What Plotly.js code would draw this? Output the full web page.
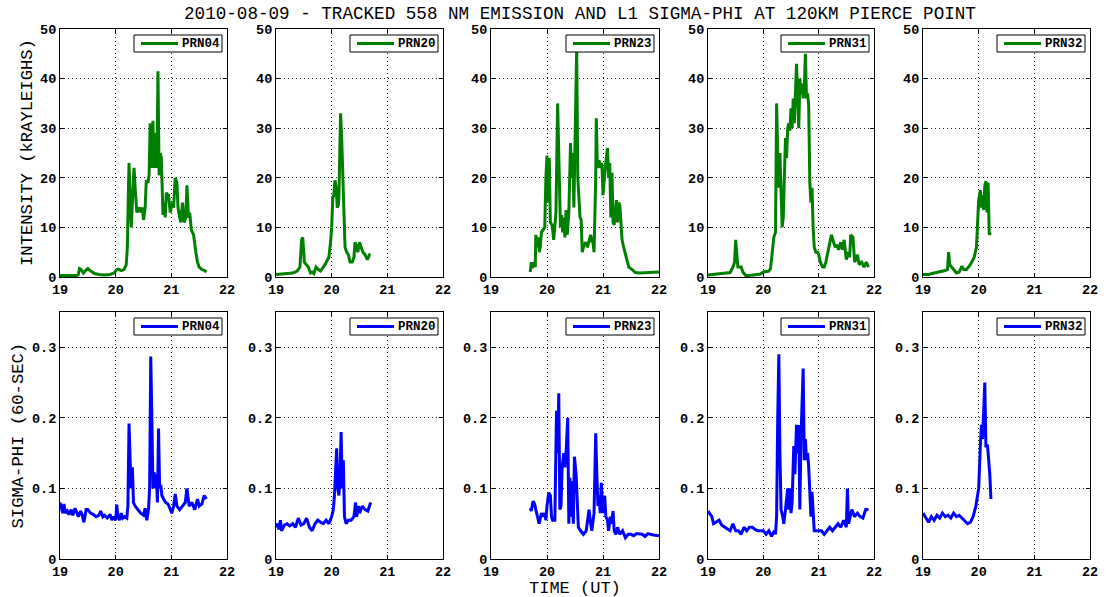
<!DOCTYPE html>
<html>
<head>
<meta charset="utf-8">
<script src="https://cdn.plot.ly/plotly-3.0.1.min.js"></script>
<style>
  html, body { margin: 0; padding: 0; background: #fff; }
  #chart { width: 1106px; height: 597px; }
</style>
</head>
<body>
<div id="chart"></div>
<script>
// Satellites (one column each)
const prnNames = ['PRN04', 'PRN20', 'PRN23', 'PRN31', 'PRN32'];

// 558 nm emission intensity (kRayleighs) at the 120 km pierce point, time in UT hours
const prn04IntT = [19.0, 19.1, 19.2, 19.3, 19.33, 19.35, 19.38, 19.42, 19.46, 19.5, 19.55, 19.62, 19.7, 19.8, 19.9, 19.97, 20.02, 20.05, 20.1, 20.15, 20.19, 20.21, 20.23, 20.24, 20.26, 20.28, 20.3, 20.33, 20.35, 20.38, 20.4, 20.43, 20.45, 20.48, 20.5, 20.53, 20.55, 20.58, 20.6, 20.62, 20.64, 20.65, 20.67, 20.68, 20.7, 20.72, 20.74, 20.76, 20.78, 20.8, 20.82, 20.85, 20.87, 20.89, 20.91, 20.93, 20.95, 20.98, 21.0, 21.02, 21.04, 21.07, 21.1, 21.12, 21.15, 21.17, 21.2, 21.23, 21.26, 21.28, 21.31, 21.33, 21.36, 21.4, 21.44, 21.47, 21.5, 21.55, 21.6, 21.63];
const prn04Int  = [0.3, 0.3, 0.3, 0.3, 0.5, 1.7, 1.5, 0.8, 1.3, 1.7, 1.2, 0.7, 0.5, 0.4, 0.5, 0.8, 1.5, 1.6, 1.3, 1.5, 2.5, 6, 18, 23, 16, 10, 15, 22, 18, 13, 13.5, 14, 13, 14, 11.5, 14, 19.5, 19, 20.5, 31, 24, 22, 31.5, 25, 22, 29, 22, 41.5, 20.5, 25, 24, 12.5, 15, 12, 17, 16.5, 16.5, 13, 14, 15, 14, 20, 19, 14, 12, 11, 15, 11, 12, 18.5, 12, 13, 9.5, 8.5, 5, 3, 2, 1.5, 1.3, 1.0];

const prn20IntT = [19.0, 19.1, 19.2, 19.3, 19.38, 19.43, 19.46, 19.48, 19.51, 19.55, 19.58, 19.62, 19.65, 19.68, 19.72, 19.76, 19.8, 19.88, 19.95, 19.98, 20.0, 20.02, 20.04, 20.06, 20.08, 20.1, 20.12, 20.13, 20.16, 20.18, 20.2, 20.21, 20.24, 20.27, 20.3, 20.33, 20.37, 20.4, 20.42, 20.45, 20.47, 20.5, 20.53, 20.56, 20.6, 20.64, 20.68, 20.7];
const prn20Int  = [0.5, 0.6, 0.7, 0.8, 1.2, 2, 7.5, 8, 3, 2.3, 2, 0.8, 1, 0.7, 2, 1.5, 1.2, 2.5, 4, 7, 10, 16, 16.5, 19.5, 18, 14, 14.5, 16, 33, 28, 20, 18, 6, 5, 4.5, 3, 3, 4, 7, 6, 5, 7, 6, 5, 4.5, 3.5, 4.5, 4.5];

const prn23IntT = [19.7, 19.72, 19.74, 19.77, 19.79, 19.8, 19.83, 19.85, 19.86, 19.88, 19.9, 19.93, 19.96, 19.98, 20.0, 20.02, 20.04, 20.06, 20.09, 20.12, 20.14, 20.16, 20.19, 20.22, 20.24, 20.26, 20.28, 20.3, 20.32, 20.34, 20.36, 20.39, 20.42, 20.44, 20.46, 20.48, 20.5, 20.53, 20.55, 20.57, 20.59, 20.61, 20.63, 20.66, 20.69, 20.72, 20.75, 20.78, 20.8, 20.81, 20.84, 20.86, 20.87, 20.88, 20.9, 20.93, 20.96, 20.98, 21.0, 21.04, 21.06, 21.08, 21.1, 21.12, 21.14, 21.16, 21.18, 21.2, 21.22, 21.24, 21.26, 21.28, 21.3, 21.32, 21.34, 21.38, 21.42, 21.46, 21.52, 21.58, 21.65, 21.75, 21.85, 22.0];
const prn23Int  = [1, 3, 1.8, 3, 2, 8.5, 6, 8, 5, 6, 9, 9.5, 10, 20, 24.5, 15, 24, 11, 10.5, 7.5, 10, 13, 35, 15, 10, 12.5, 9, 12, 8, 13.5, 8.5, 13, 27, 20, 25, 14, 25, 46, 20, 15, 12, 11.5, 5, 6.5, 7, 6, 7.5, 8.5, 7, 8, 5, 12, 20, 32, 22, 23.5, 22, 23, 16.5, 22, 25, 26, 20, 23, 12, 21, 11, 10.5, 13, 15.5, 11, 15, 14.5, 10, 7.5, 5.5, 3.5, 2, 1.5, 0.9, 0.8, 0.9, 0.9, 1];

const prn31IntT = [19.0, 19.1, 19.2, 19.3, 19.4, 19.45, 19.48, 19.5, 19.52, 19.54, 19.57, 19.6, 19.63, 19.68, 19.75, 19.85, 19.95, 20.0, 20.1, 20.13, 20.16, 20.19, 20.22, 20.24, 20.26, 20.28, 20.3, 20.32, 20.34, 20.36, 20.38, 20.4, 20.42, 20.44, 20.46, 20.48, 20.5, 20.52, 20.54, 20.56, 20.6, 20.62, 20.64, 20.66, 20.68, 20.7, 20.72, 20.74, 20.76, 20.78, 20.8, 20.82, 20.84, 20.86, 20.88, 20.9, 20.92, 20.95, 20.98, 21.0, 21.03, 21.07, 21.1, 21.13, 21.17, 21.2, 21.23, 21.27, 21.3, 21.33, 21.36, 21.4, 21.43, 21.46, 21.5, 21.53, 21.56, 21.58, 21.62, 21.65, 21.7, 21.73, 21.78, 21.82, 21.86, 21.9];
const prn31Int  = [0.4, 0.5, 0.7, 0.7, 0.9, 2, 3, 7.5, 5, 2, 2, 2, 1, 0.3, 0.3, 0.5, 0.6, 1, 1.2, 1.7, 5, 8, 9, 35, 25, 18, 25, 17, 10, 12, 23, 28, 24, 30, 31, 29.5, 34, 30, 36, 31, 43, 36, 30, 40, 37, 39, 36, 38, 45, 36, 37, 34.5, 19, 15, 18, 10, 6, 5, 5, 4.5, 3, 2, 2, 3, 5, 7, 8.5, 7, 6, 6.5, 5.5, 7, 5.5, 7.5, 3.5, 5, 4, 8.5, 8, 3, 4.5, 2.5, 3, 2, 3, 2];

const prn32IntT = [19.0, 19.1, 19.2, 19.3, 19.4, 19.44, 19.46, 19.48, 19.52, 19.56, 19.6, 19.65, 19.7, 19.73, 19.78, 19.85, 19.92, 19.96, 19.98, 20.0, 20.03, 20.05, 20.07, 20.09, 20.11, 20.13, 20.15, 20.17, 20.19, 20.21];
const prn32Int  = [0.5, 0.5, 0.8, 1, 1.3, 1.5, 5, 2.5, 2, 1.5, 0.8, 1, 2.2, 1.5, 1.5, 2.5, 4, 6, 10, 15.5, 17.5, 14, 16.5, 13.5, 18.5, 19.3, 13, 19, 8.5, 9];

// L1 sigma-phi (60-second), time in UT hours
const prn04SigT = [19.0, 19.03, 19.05, 19.07, 19.1, 19.13, 19.16, 19.2, 19.23, 19.27, 19.3, 19.33, 19.37, 19.4, 19.43, 19.47, 19.5, 19.55, 19.6, 19.65, 19.7, 19.73, 19.77, 19.8, 19.85, 19.9, 19.93, 19.96, 20.0, 20.02, 20.04, 20.07, 20.1, 20.13, 20.16, 20.2, 20.22, 20.24, 20.26, 20.28, 20.3, 20.32, 20.35, 20.4, 20.45, 20.5, 20.53, 20.56, 20.59, 20.61, 20.63, 20.65, 20.67, 20.69, 20.71, 20.73, 20.75, 20.77, 20.79, 20.81, 20.83, 20.86, 20.9, 20.94, 20.98, 21.01, 21.04, 21.07, 21.1, 21.15, 21.2, 21.25, 21.28, 21.32, 21.37, 21.42, 21.47, 21.5, 21.55, 21.59, 21.63];
const prn04Sig  = [0.08, 0.07, 0.065, 0.078, 0.065, 0.068, 0.063, 0.07, 0.062, 0.072, 0.065, 0.06, 0.068, 0.062, 0.052, 0.07, 0.07, 0.065, 0.063, 0.06, 0.062, 0.068, 0.06, 0.062, 0.058, 0.063, 0.055, 0.06, 0.055, 0.077, 0.06, 0.055, 0.065, 0.058, 0.06, 0.058, 0.075, 0.192, 0.14, 0.1, 0.13, 0.08, 0.075, 0.07, 0.065, 0.062, 0.072, 0.055, 0.07, 0.1, 0.287, 0.2, 0.1, 0.123, 0.1, 0.12, 0.08, 0.185, 0.1, 0.105, 0.09, 0.085, 0.08, 0.078, 0.07, 0.065, 0.075, 0.092, 0.075, 0.07, 0.075, 0.08, 0.1, 0.075, 0.08, 0.07, 0.085, 0.075, 0.078, 0.09, 0.085];

const prn20SigT = [19.0, 19.03, 19.05, 19.08, 19.1, 19.15, 19.2, 19.25, 19.3, 19.35, 19.4, 19.45, 19.5, 19.55, 19.6, 19.65, 19.7, 19.75, 19.8, 19.85, 19.9, 19.95, 20.0, 20.03, 20.05, 20.07, 20.09, 20.11, 20.13, 20.15, 20.17, 20.19, 20.21, 20.23, 20.26, 20.3, 20.35, 20.4, 20.43, 20.45, 20.48, 20.5, 20.55, 20.6, 20.65, 20.7];
const prn20Sig  = [0.045, 0.05, 0.042, 0.055, 0.04, 0.048, 0.05, 0.047, 0.05, 0.045, 0.058, 0.048, 0.05, 0.058, 0.045, 0.04, 0.05, 0.055, 0.052, 0.05, 0.055, 0.05, 0.06, 0.07, 0.09, 0.12, 0.157, 0.1, 0.09, 0.12, 0.18, 0.1, 0.14, 0.06, 0.05, 0.055, 0.055, 0.06, 0.08, 0.06, 0.075, 0.065, 0.075, 0.07, 0.068, 0.08];

const prn23SigT = [19.7, 19.72, 19.75, 19.78, 19.8, 19.83, 19.86, 19.9, 19.93, 19.96, 19.98, 20.0, 20.03, 20.06, 20.08, 20.1, 20.14, 20.17, 20.19, 20.21, 20.23, 20.25, 20.27, 20.3, 20.32, 20.34, 20.37, 20.39, 20.41, 20.43, 20.45, 20.47, 20.49, 20.52, 20.54, 20.56, 20.6, 20.65, 20.7, 20.75, 20.78, 20.8, 20.84, 20.87, 20.89, 20.91, 20.93, 20.95, 20.97, 21.0, 21.03, 21.05, 21.08, 21.1, 21.13, 21.15, 21.18, 21.2, 21.23, 21.26, 21.3, 21.35, 21.4, 21.45, 21.5, 21.55, 21.6, 21.7, 21.75, 21.8, 21.9, 22.0];
const prn23Sig  = [0.072, 0.068, 0.082, 0.078, 0.07, 0.06, 0.05, 0.065, 0.06, 0.065, 0.055, 0.075, 0.094, 0.09, 0.06, 0.055, 0.055, 0.21, 0.15, 0.235, 0.07, 0.075, 0.13, 0.15, 0.13, 0.15, 0.2, 0.05, 0.115, 0.06, 0.11, 0.05, 0.145, 0.12, 0.07, 0.045, 0.04, 0.035, 0.04, 0.07, 0.05, 0.04, 0.065, 0.178, 0.12, 0.075, 0.09, 0.065, 0.108, 0.065, 0.09, 0.06, 0.055, 0.04, 0.06, 0.05, 0.068, 0.04, 0.035, 0.045, 0.035, 0.04, 0.03, 0.035, 0.035, 0.033, 0.036, 0.035, 0.032, 0.036, 0.034, 0.033];

const prn31SigT = [19.0, 19.03, 19.07, 19.1, 19.15, 19.2, 19.25, 19.3, 19.35, 19.4, 19.45, 19.5, 19.55, 19.6, 19.65, 19.7, 19.75, 19.8, 19.85, 19.9, 19.95, 20.0, 20.05, 20.1, 20.15, 20.2, 20.22, 20.24, 20.26, 20.28, 20.3, 20.32, 20.35, 20.37, 20.4, 20.42, 20.44, 20.46, 20.48, 20.5, 20.52, 20.55, 20.57, 20.6, 20.62, 20.64, 20.66, 20.68, 20.7, 20.72, 20.74, 20.76, 20.78, 20.8, 20.82, 20.84, 20.86, 20.88, 20.9, 20.92, 20.95, 21.0, 21.05, 21.1, 21.15, 21.2, 21.25, 21.3, 21.35, 21.4, 21.45, 21.5, 21.52, 21.54, 21.57, 21.6, 21.65, 21.7, 21.75, 21.8, 21.85, 21.9];
const prn31Sig  = [0.068, 0.065, 0.06, 0.05, 0.052, 0.055, 0.048, 0.045, 0.042, 0.04, 0.05, 0.04, 0.04, 0.035, 0.045, 0.04, 0.045, 0.045, 0.042, 0.04, 0.04, 0.04, 0.035, 0.04, 0.032, 0.04, 0.035, 0.06, 0.2, 0.29, 0.15, 0.07, 0.06, 0.05, 0.07, 0.09, 0.1, 0.07, 0.1, 0.065, 0.08, 0.16, 0.12, 0.19, 0.15, 0.19, 0.07, 0.17, 0.24, 0.27, 0.14, 0.17, 0.14, 0.15, 0.13, 0.08, 0.06, 0.095, 0.06, 0.04, 0.04, 0.04, 0.04, 0.035, 0.04, 0.045, 0.04, 0.045, 0.05, 0.045, 0.055, 0.045, 0.1, 0.05, 0.06, 0.07, 0.06, 0.065, 0.06, 0.058, 0.07, 0.07];

const prn32SigT = [19.0, 19.05, 19.1, 19.15, 19.2, 19.25, 19.3, 19.35, 19.4, 19.45, 19.5, 19.55, 19.6, 19.65, 19.7, 19.75, 19.8, 19.85, 19.9, 19.95, 20.0, 20.03, 20.05, 20.07, 20.09, 20.11, 20.13, 20.16, 20.18, 20.2, 20.22];
const prn32Sig  = [0.065, 0.058, 0.052, 0.06, 0.055, 0.062, 0.058, 0.065, 0.06, 0.062, 0.058, 0.065, 0.06, 0.062, 0.058, 0.055, 0.05, 0.052, 0.06, 0.075, 0.1, 0.16, 0.19, 0.17, 0.22, 0.25, 0.16, 0.16, 0.14, 0.12, 0.085];

const intensitySeries = [[prn04IntT, prn04Int], [prn20IntT, prn20Int], [prn23IntT, prn23Int], [prn31IntT, prn31Int], [prn32IntT, prn32Int]];
const sigmaSeries = [[prn04SigT, prn04Sig], [prn20SigT, prn20Sig], [prn23SigT, prn23Sig], [prn31SigT, prn31Sig], [prn32SigT, prn32Sig]];

const xTicks = [19, 20, 21, 22];
const intensityTicks = [0, 10, 20, 30, 40, 50];
const sigmaTicks = [0, 0.1, 0.2, 0.3];

// ---- layout geometry (pixels) ----
const W = 1106, H = 597;
const colPx = [[60, 227], [276, 443], [491, 659], [708, 874], [923, 1090]];
const topRowPx = [29, 277];
const botRowPx = [312, 559];

const MONO = '"Liberation Mono", "Courier New", monospace';
const GREEN = '#008000';
const BLUE = '#0000ff';

const px = v => v / W;          // horizontal pixel -> paper fraction
const py = v => 1 - v / H;      // vertical pixel (from top) -> paper fraction
const xd = c => [px(colPx[c][0]), px(colPx[c][1])];
const yd = r => [py(r[1]), py(r[0])];

function axisBase() {
  return {
    showline: true, mirror: 'ticks', linecolor: '#000', linewidth: 1,
    ticks: 'inside', ticklen: 4, tickcolor: '#000',
    showgrid: true, gridcolor: '#222', gridwidth: 1, griddash: '1px,3px',
    zeroline: false, fixedrange: true,
    tickfont: { family: MONO, size: 13.5, color: '#000', weight: 'bold' }
  };
}

const traces = [];
const layout = {
  width: W, height: H,
  margin: { l: 0, r: 0, t: 0, b: 0 },
  paper_bgcolor: '#fff', plot_bgcolor: '#fff',
  showlegend: false,
  title: {
    text: '2010-08-09 - TRACKED 558 NM EMISSION AND L1 SIGMA-PHI AT 120KM PIERCE POINT',
    font: { family: MONO, size: 17.6, color: '#000' },
    x: px(580), xanchor: 'center', y: py(13), yanchor: 'middle'
  },
  annotations: [],
  shapes: [],
  font: { family: MONO, color: '#000' }
};

// Boxed legend in the upper-right corner of a panel: frame, line sample, label
function addLegend(col, rowPx, name, color) {
  const right = colPx[col][1] - 5;
  const left = right - 88;
  const top = rowPx[0] + 6;
  const bottom = top + 17;
  const mid = (top + bottom) / 2;
  layout.shapes.push({
    type: 'rect', xref: 'paper', yref: 'paper',
    x0: px(left), x1: px(right), y0: py(bottom), y1: py(top),
    line: { color: '#000', width: 1 }, fillcolor: '#fff', layer: 'above'
  });
  layout.shapes.push({
    type: 'line', xref: 'paper', yref: 'paper',
    x0: px(left + 7), x1: px(left + 44), y0: py(mid), y1: py(mid),
    line: { color: color, width: 3 }, layer: 'above'
  });
  layout.annotations.push({
    text: name, xref: 'paper', yref: 'paper',
    x: px(left + 46), y: py(mid), xanchor: 'left', yanchor: 'middle',
    showarrow: false,
    font: { family: MONO, size: 12.5, color: '#000', weight: 'bold' }
  });
}

function addPanel(idx, col, rowPx, series, color, yRange, yTicks) {
  const n = idx + 1;
  const sfx = n === 1 ? '' : String(n);
  traces.push({
    type: 'scatter', mode: 'lines',
    x: series[0], y: series[1],
    name: prnNames[col],
    xaxis: 'x' + sfx, yaxis: 'y' + sfx,
    line: { color: color, width: 3 },
    hoverinfo: 'skip'
  });
  layout['xaxis' + sfx] = Object.assign(axisBase(), {
    domain: xd(col), range: [19, 22], tickvals: xTicks, anchor: 'y' + sfx
  });
  layout['yaxis' + sfx] = Object.assign(axisBase(), {
    domain: yd(rowPx), range: yRange, tickvals: yTicks, anchor: 'x' + sfx
  });
  addLegend(col, rowPx, prnNames[col], color);
}

for (let c = 0; c < 5; c++) {
  addPanel(c, c, topRowPx, intensitySeries[c], GREEN, [0, 50], intensityTicks);
}
for (let c = 0; c < 5; c++) {
  addPanel(5 + c, c, botRowPx, sigmaSeries[c], BLUE, [0, 0.35], sigmaTicks);
}

// axis titles
layout.annotations.push({
  text: 'INTENSITY (kRAYLEIGHS)', xref: 'paper', yref: 'paper',
  x: px(27), y: py((topRowPx[0] + topRowPx[1]) / 2),
  xanchor: 'center', yanchor: 'middle', textangle: -90, showarrow: false,
  font: { family: MONO, size: 17.2, color: '#000' }
});
layout.annotations.push({
  text: 'SIGMA-PHI (60-SEC)', xref: 'paper', yref: 'paper',
  x: px(18), y: py((botRowPx[0] + botRowPx[1]) / 2),
  xanchor: 'center', yanchor: 'middle', textangle: -90, showarrow: false,
  font: { family: MONO, size: 17.2, color: '#000' }
});
layout.annotations.push({
  text: 'TIME (UT)', xref: 'paper', yref: 'paper',
  x: px(575), y: py(588),
  xanchor: 'center', yanchor: 'middle', showarrow: false,
  font: { family: MONO, size: 17, color: '#000' }
});

Plotly.newPlot('chart', traces, layout, { displayModeBar: false, staticPlot: true });
</script>
</body>
</html>
